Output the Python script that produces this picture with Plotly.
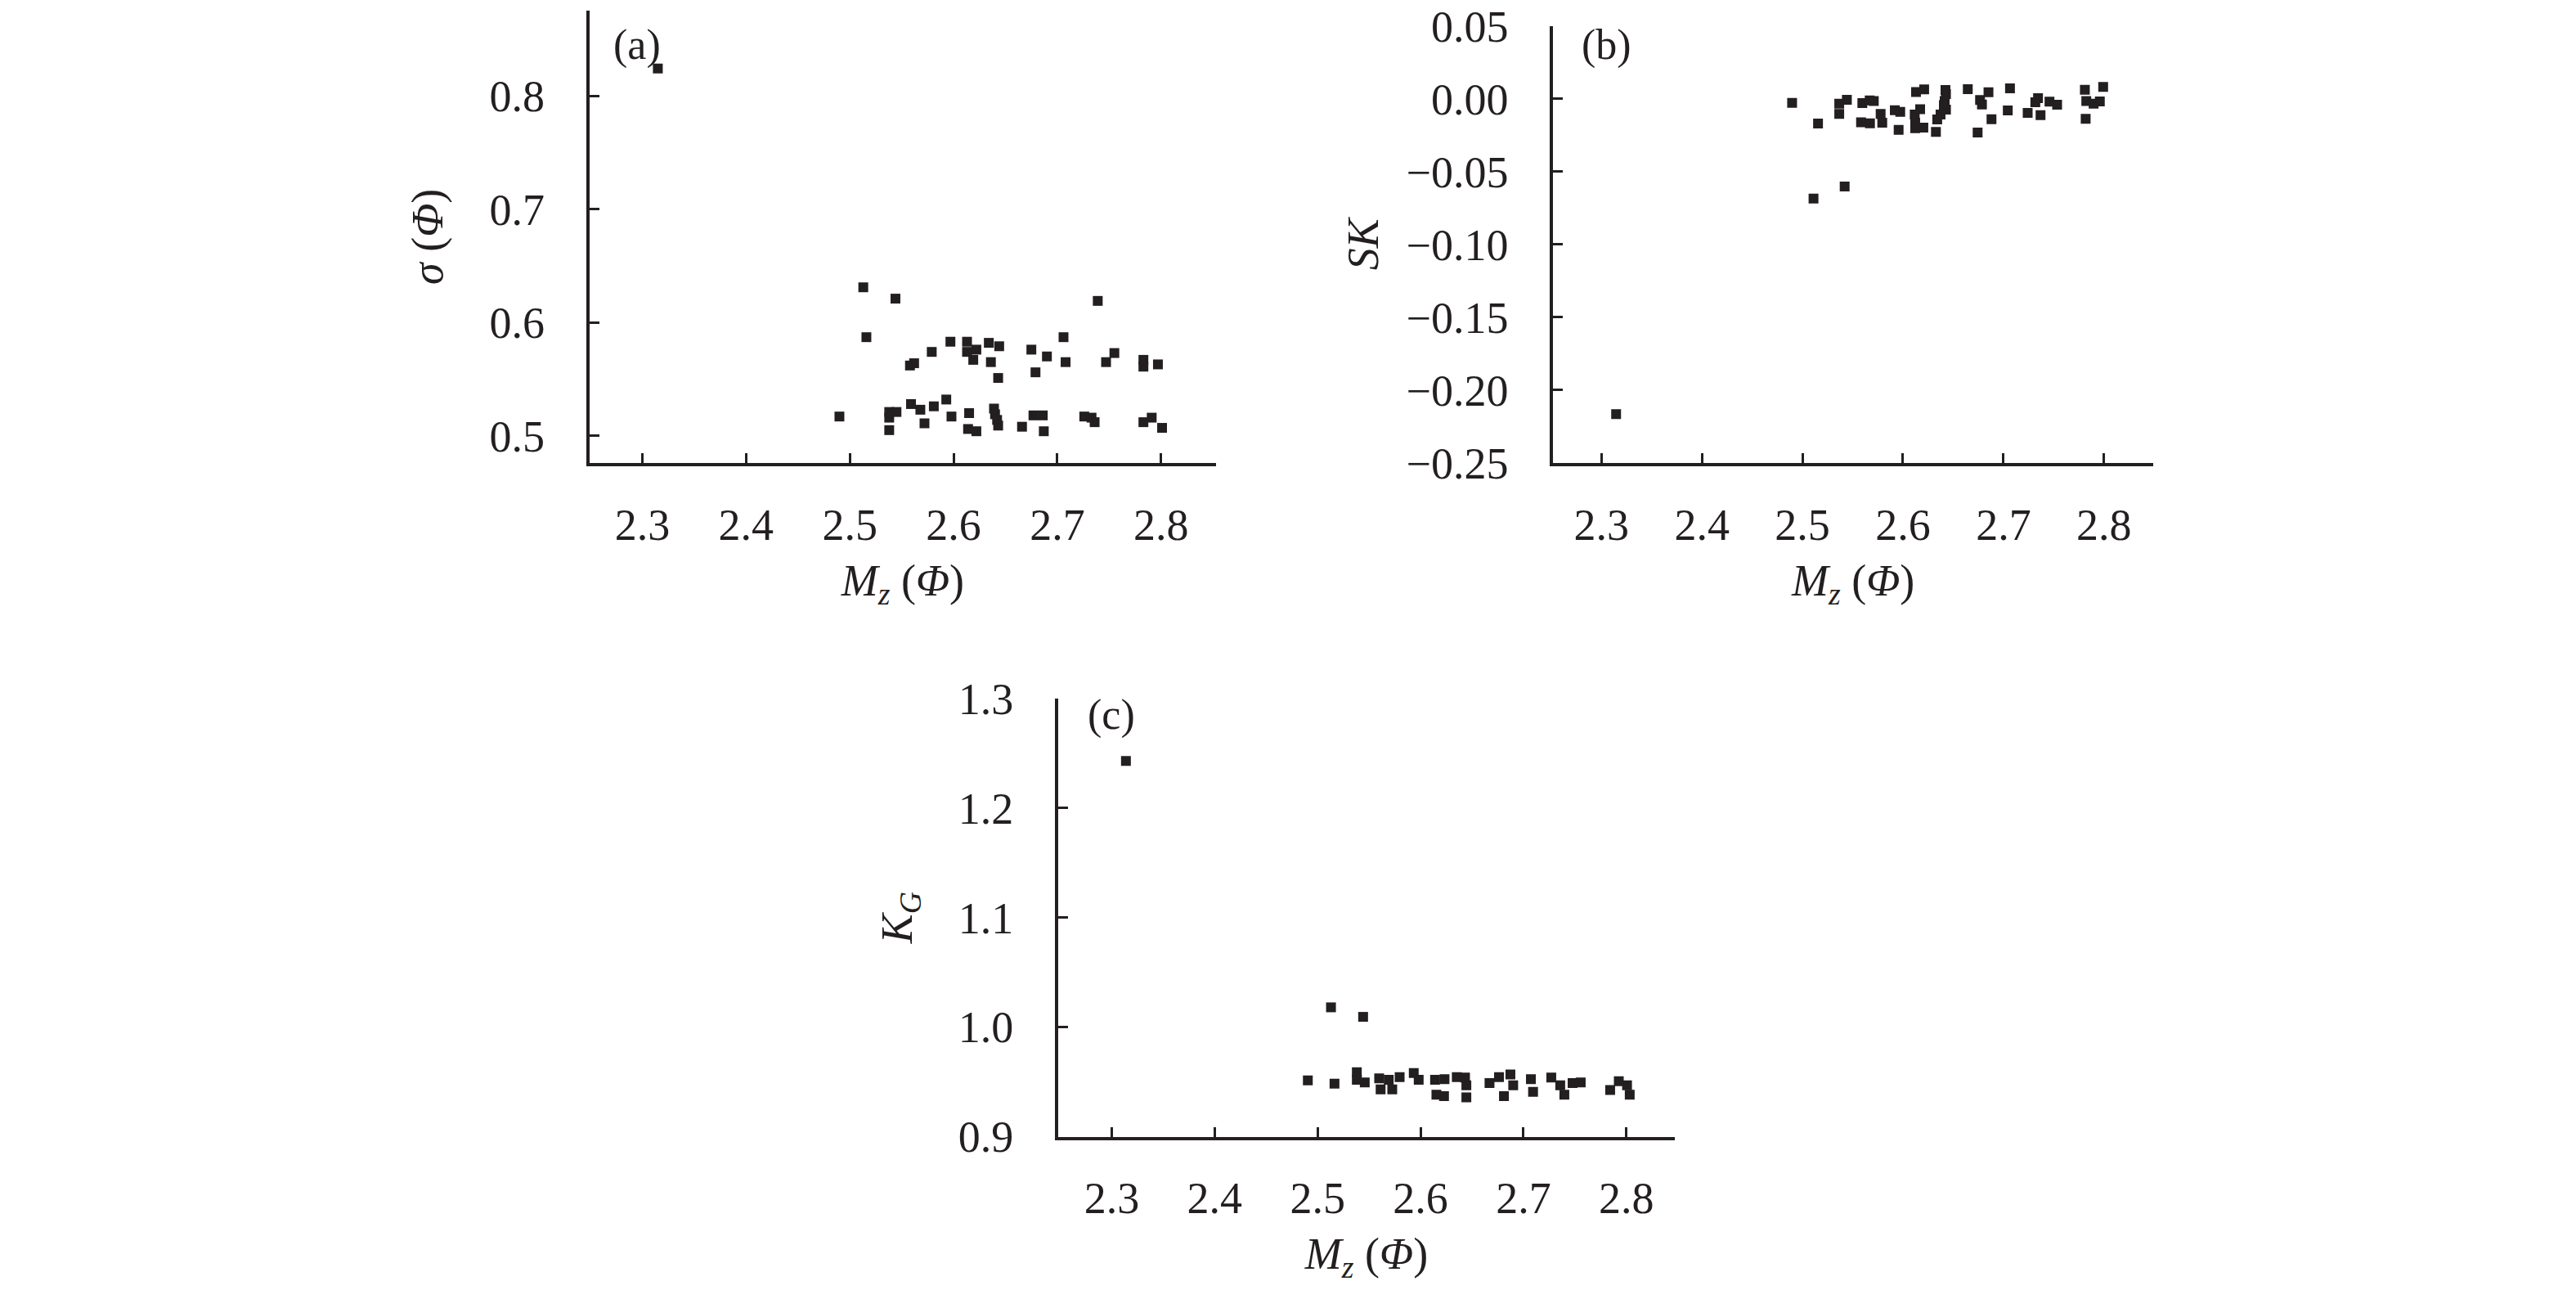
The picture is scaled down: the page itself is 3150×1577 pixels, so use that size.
import plotly.graph_objects as go

# ---------------- data ----------------
mz_a = [2.315, 2.513, 2.544, 2.739, 2.516, 2.597, 2.613, 2.622, 2.613, 2.634,
        2.644, 2.579, 2.706, 2.675, 2.690, 2.558, 2.562, 2.619, 2.636, 2.708,
        2.755, 2.747, 2.783, 2.783, 2.797, 2.643, 2.679, 2.490, 2.538, 2.538,
        2.545, 2.559, 2.568, 2.581, 2.593, 2.598, 2.615, 2.572, 2.538, 2.614,
        2.622, 2.639, 2.640, 2.642, 2.643, 2.666, 2.677, 2.686, 2.687, 2.726,
        2.733, 2.736, 2.783, 2.791, 2.801]
sigma_a = [0.824, 0.631, 0.621, 0.619, 0.587, 0.583, 0.583, 0.576, 0.574, 0.582,
           0.579, 0.574, 0.587, 0.576, 0.570, 0.562, 0.564, 0.567, 0.565, 0.565,
           0.573, 0.565, 0.567, 0.561, 0.563, 0.551, 0.556, 0.517, 0.521, 0.516,
           0.521, 0.528, 0.523, 0.526, 0.532, 0.517, 0.520, 0.511, 0.505, 0.506,
           0.504, 0.524, 0.519, 0.514, 0.509, 0.508, 0.518, 0.518, 0.504, 0.517,
           0.516, 0.512, 0.512, 0.516, 0.507]

mz_b = [2.3146, 2.511, 2.542, 2.4897, 2.5155, 2.5366, 2.5366, 2.5442, 2.5596, 2.5669,
        2.5710, 2.5778, 2.5583, 2.5672, 2.5794, 2.5919, 2.5973, 2.5957, 2.6130, 2.6211,
        2.6171, 2.6117, 2.6122, 2.6122, 2.6203, 2.6423, 2.6428, 2.6415, 2.6407, 2.6428,
        2.6374, 2.6341, 2.6328, 2.6645, 2.6851, 2.6767, 2.6786, 2.6881, 2.6743, 2.7065,
        2.7043, 2.7241, 2.7344, 2.7317, 2.7369, 2.7458, 2.7534, 2.7810, 2.7824, 2.7897,
        2.7959, 2.7992, 2.7818]
sk_b = [-0.2165, -0.0685, -0.0602, -0.0028, -0.0170, -0.0033, -0.0104, -0.0007, -0.0030, -0.0011,
        -0.0015, -0.0104, -0.0161, -0.0168, -0.0164, -0.0078, -0.0090, -0.0213, 0.0047, 0.0064,
        -0.0071, -0.0108, -0.0164, -0.0202, -0.0198, 0.0060, 0.0032, -0.0015, -0.0043, -0.0075,
        -0.0108, -0.0142, -0.0228, 0.0066, 0.0045, -0.0009, -0.0039, -0.0140, -0.0232, 0.0071,
        -0.0080, -0.0097, 0.0004, -0.0024, -0.0112, -0.0020, -0.0041, 0.0062, -0.0015, -0.0033,
        -0.0018, 0.0081, -0.0138]

mz_c = [2.3138, 2.513, 2.5442, 2.4905, 2.5164, 2.5381, 2.5381, 2.5458, 2.5598, 2.5612,
        2.5691, 2.5725, 2.5797, 2.5934, 2.5982, 2.6141, 2.6233, 2.6154, 2.6228, 2.6352,
        2.6432, 2.6445, 2.6445, 2.6670, 2.6762, 2.6873, 2.6900, 2.6810, 2.7072, 2.7093,
        2.7270, 2.7357, 2.7397, 2.7477, 2.7556, 2.7842, 2.7926, 2.8006, 2.8032]
kg_c = [1.2428, 1.018, 1.0093, 0.9514, 0.9484, 0.9588, 0.9519, 0.9494, 0.9531, 0.9432,
        0.9519, 0.9432, 0.9544, 0.9581, 0.9519, 0.9519, 0.9524, 0.9383, 0.9370, 0.9544,
        0.9539, 0.9469, 0.9358, 0.9489, 0.9544, 0.9568, 0.9469, 0.9370, 0.9524, 0.9408,
        0.9539, 0.9469, 0.9383, 0.9489, 0.9494, 0.9425, 0.9506, 0.9469, 0.9383]

x_ticks = [2.3, 2.4, 2.5, 2.6, 2.7, 2.8]
y_ticks_a = [0.5, 0.6, 0.7, 0.8]
y_ticks_b = [-0.25, -0.20, -0.15, -0.10, -0.05, 0.00, 0.05]
y_ticks_c = [0.9, 1.0, 1.1, 1.2, 1.3]

# ---------------- styling ----------------
W, H = 3150, 1577
INK = "#231f20"
FONT = "Liberation Serif"
FS = 54

def px_x(p):
    return p / W

def px_y(p):
    return 1 - p / H

marker = dict(symbol="square", size=12, color=INK, line=dict(width=0))

fig = go.Figure()
fig.add_trace(go.Scatter(x=mz_a, y=sigma_a, mode="markers", marker=marker, xaxis="x", yaxis="y"))
fig.add_trace(go.Scatter(x=mz_b, y=sk_b, mode="markers", marker=marker, xaxis="x2", yaxis="y2"))
fig.add_trace(go.Scatter(x=mz_c, y=kg_c, mode="markers", marker=marker, xaxis="x3", yaxis="y3"))

common = dict(
    showline=True, linecolor=INK, linewidth=4, mirror=False,
    ticks="inside", ticklen=12, tickwidth=3, tickcolor=INK,
    showgrid=False, zeroline=False, automargin=False,
    tickfont=dict(family=FONT, size=FS, color=INK),
    title_font=dict(family=FONT, size=FS, color=INK),
)

xtitle = "<i>M<sub>z</sub></i> (<i>Φ</i>)"

xa = dict(common, tickvals=x_ticks, ticktext=[f"{v:.1f}" for v in x_ticks],
          ticklabelstandoff=25, title=dict(text=xtitle, standoff=20))

fig.update_layout(
    width=W, height=H,
    margin=dict(l=0, r=0, t=0, b=0, autoexpand=False),
    paper_bgcolor="white", plot_bgcolor="white",
    showlegend=False,
    xaxis=dict(xa, domain=[px_x(720.7), px_x(1487)], range=[2.249, 2.853], anchor="y"),
    yaxis=dict(common, domain=[px_y(566), px_y(12.7)], range=[0.476, 0.8753], anchor="x",
               tickvals=y_ticks_a, ticktext=[f"{v:.1f}" for v in y_ticks_a],
               ticklabelstandoff=40,
               title=dict(text="<i>σ</i> (<i>Φ</i>)", standoff=40)),
    xaxis2=dict(xa, domain=[px_x(1899.3), px_x(2633)], range=[2.252, 2.849], anchor="y2"),
    yaxis2=dict(common, domain=[px_y(566), px_y(31.7)], range=[-0.25, 0.05], anchor="x2",
                tickvals=y_ticks_b,
                ticktext=[("−" if v < -1e-9 else "") + f"{abs(v):.2f}" for v in y_ticks_b],
                ticklabelstandoff=40,
                title=dict(text="<i>SK</i>", standoff=18)),
    xaxis3=dict(xa, domain=[px_x(1294), px_x(2048)], range=[2.248, 2.847], anchor="y3"),
    yaxis3=dict(common, domain=[px_y(1389.5), px_y(853.7)], range=[0.9, 1.3], anchor="x3",
                tickvals=y_ticks_c, ticktext=[f"{v:.1f}" for v in y_ticks_c],
                ticklabelstandoff=40,
                title=dict(text="<i>K<sub>G</sub></i>", standoff=40)),
)

labels = [("(a)", "x", "y", 0.036, 0.980),
          ("(b)", "x2", "y2", 0.045, 1.014),
          ("(c)", "x3", "y3", 0.045, 1.020)]
for txt, xr, yr, fx, fy in labels:
    fig.add_annotation(text=txt, xref=f"{xr} domain", yref=f"{yr} domain",
                       x=fx, y=fy, xanchor="left", yanchor="top", showarrow=False,
                       font=dict(family=FONT, size=52, color=INK))

fig.write_html("out.html",
               config={"displayModeBar": False},
               post_script="document.body.style.margin='0';document.body.style.overflow='hidden';")
